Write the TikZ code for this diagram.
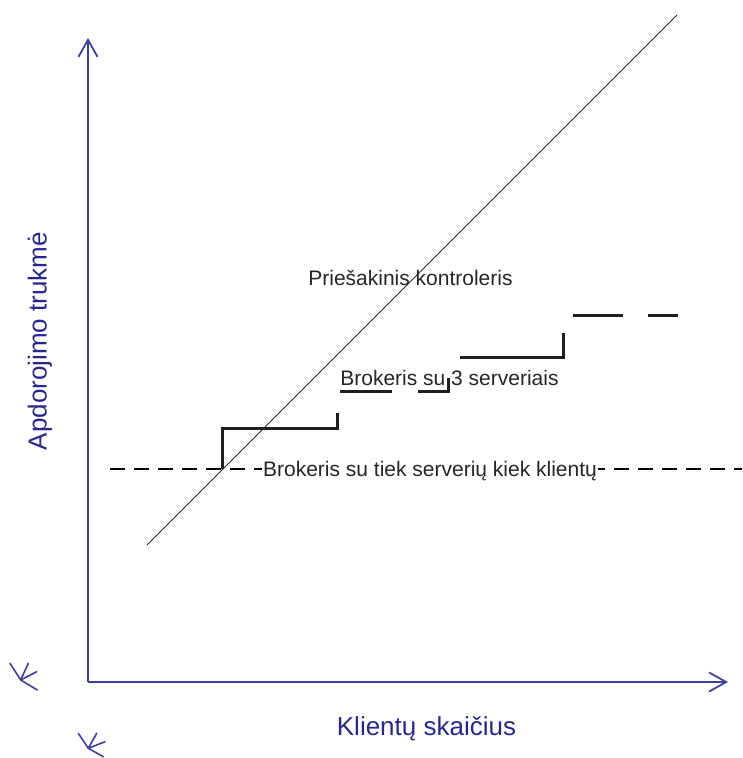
\documentclass[tikz,border=0pt]{standalone}
\usepackage{fontspec}
\setmainfont{Liberation Sans}
\usetikzlibrary{arrows.meta}
\definecolor{axisblue}{RGB}{62,62,165}
\definecolor{labelblue}{RGB}{38,38,145}
\definecolor{stepgray}{RGB}{30,30,30}
\begin{document}
\begin{tikzpicture}[x=1pt,y=-1pt,
  axis/.style={draw=axisblue,line width=2pt,-{Straight Barb[length=17pt,width=19pt,line width=1.8pt]}},
  axislabel/.style={text=labelblue,font=\fontsize{26}{30}\selectfont,inner sep=0pt},
  curvelabel/.style={text=black!85,font=\fontsize{21}{25}\selectfont,inner sep=0pt},
  stepline/.style={draw=stepgray,line width=3pt},
  marker/.style={draw=axisblue,line width=1.6pt,line cap=round}]
\useasboundingbox (0,0) rectangle (742,758);

% axes
\coordinate (origin) at (88,682);
\coordinate (ytip) at (88,38);
\coordinate (xtip) at (728,682);
\draw[axis] (origin) -- (ytip);
\draw[axis] (origin) -- (xtip);
\node[axislabel,rotate=90] (ylab) at (40,341) {Apdorojimo trukmė};
\node[axislabel,anchor=base] (xlab) at (426.5,735) {Klientų skaičius};

% small marks
\coordinate (m1) at (20.7,680);
\draw[marker] (m1) -- (10,663.3) (m1) -- (28.3,663.3) (m1) -- (36.7,671.7) (m1) -- (37.3,690);
\coordinate (m2) at (88.3,748.3);
\draw[marker] (m2) -- (78.3,733.3) (m2) -- (96.7,733.3) (m2) -- (105,741.7) (m2) -- (103.3,756.7);

% front controller: linear growth
\coordinate (fc0) at (147,545);
\coordinate (fc1) at (677,15);
\draw[black!80,line width=0.9pt] (fc0) -- (fc1);
\node[curvelabel,anchor=base] (fclab) at (410.5,285) {Priešakinis kontroleris};

% broker with one server per client: constant
\coordinate (bc0) at (110,469);
\coordinate (bc1) at (742,469);
\draw[black,line width=1.4pt,dash pattern=on 15pt off 9pt] (bc0) -- (bc1);
\node[curvelabel,anchor=base,fill=white,inner xsep=1pt,inner ysep=1pt] (bclab) at (430,476) {Brokeris su tiek serverių kiek klientų};

% broker with 3 servers: step function
\draw[stepline] (222,469) -- (222,428) -- (337,428) -- (337,413);
\draw[stepline] (340,391) -- (392,391);
\draw[stepline] (418,391) -- (448,391) -- (448,378);
\draw[stepline] (460,357) -- (563,357) -- (563,333);
\draw[stepline] (573,315) -- (623,315);
\draw[stepline] (648,315) -- (678,315);
\node[curvelabel,anchor=base] (b3lab) at (449.5,385) {Brokeris su 3 serveriais};
\end{tikzpicture}
\end{document}
